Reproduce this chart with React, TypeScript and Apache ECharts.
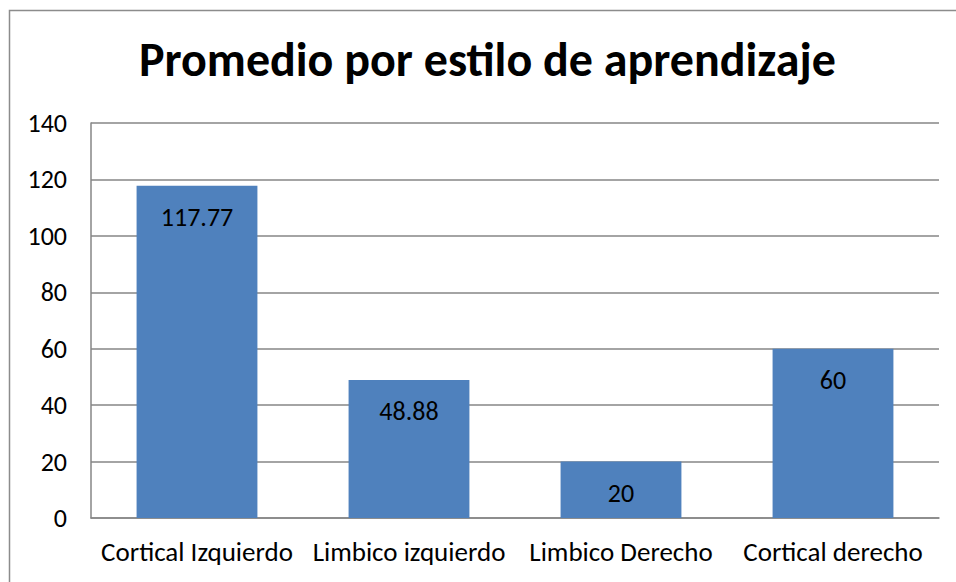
import React, { useEffect, useRef } from "react";
import * as echarts from "echarts";

const titleText = "Promedio por estilo de aprendizaje";
const categories = ["Cortical Izquierdo", "Limbico izquierdo", "Limbico Derecho", "Cortical derecho"];
const values = [117.77, 48.88, 20, 60];
const yMin = 0;
const yMax = 140;
const yInterval = 20;

export default function App() {
  const ref = useRef<HTMLDivElement>(null);
  useEffect(() => {
    if (!ref.current) return;
    const chart = echarts.init(ref.current, null, { renderer: "svg" });
    const font = "Calibri, Carlito, 'Open Sans', sans-serif";
    chart.setOption({
      animation: false,
      backgroundColor: "#ffffff",
      title: {
        text: titleText,
        left: 134,
        top: 30,
        textStyle: { fontFamily: font, fontSize: 48, fontWeight: "bold", color: "#000" },
      },
      graphic: [
        {
          type: "rect",
          shape: { x: 9.5, y: 10.5, width: 1000, height: 1000 },
          style: { fill: "none", stroke: "#8c8c8c", lineWidth: 1.5 },
          silent: true,
        },
      ],
      grid: { left: 91, right: 17, top: 123, bottom: 64, containLabel: false },
      xAxis: {
        type: "category",
        data: categories,
        axisLine: { show: true, lineStyle: { color: "#868686", width: 1.5 } },
        axisTick: { show: false },
        axisLabel: { fontFamily: font, fontSize: 27, color: "#000", margin: 20, interval: 0 },
      },
      yAxis: {
        type: "value",
        min: yMin,
        max: yMax,
        interval: yInterval,
        axisLine: { show: true, lineStyle: { color: "#868686", width: 1.5 } },
        axisTick: { show: false },
        splitLine: { show: true, lineStyle: { color: "#868686", width: 1.5 } },
        axisLabel: { fontFamily: font, fontSize: 26, color: "#000", margin: 24 },
      },
      series: [
        {
          type: "bar",
          data: values,
          barWidth: "57%",
          itemStyle: { color: "#4F81BD" },
          label: {
            show: true,
            position: "insideTop",
            distance: 18,
            fontFamily: font,
            fontSize: 26,
            color: "#000",
          },
        },
      ],
    });
    return () => chart.dispose();
  }, []);
  return (
    <div
      ref={ref}
      style={{ position: "absolute", left: 0, top: 0, width: 956, height: 582 }}
    />
  );
}
